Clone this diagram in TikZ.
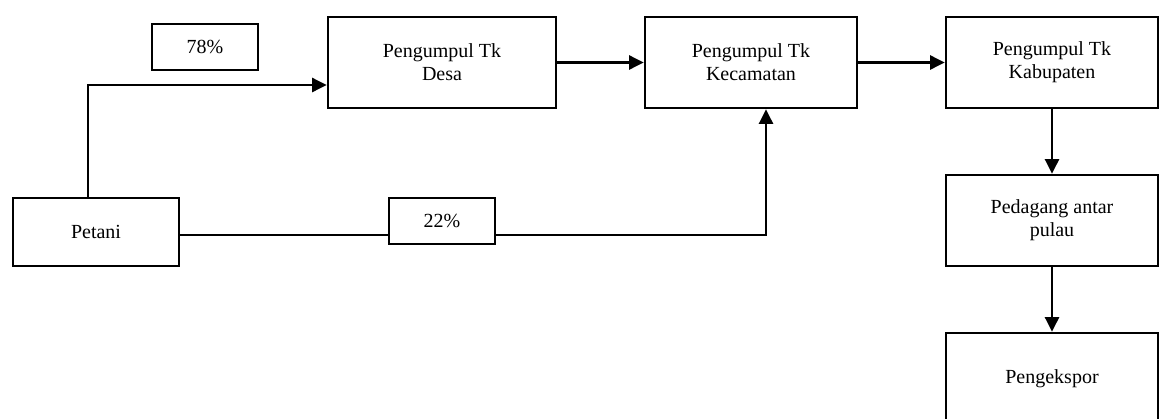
\documentclass[tikz,border=0pt]{standalone}
\usepackage{fontspec}
\setmainfont{Liberation Serif}
\usetikzlibrary{arrows.meta}

\begin{document}
\begin{tikzpicture}[x=0.75pt, y=-0.75pt,
    box/.style={draw, line width=1.9pt, align=center, inner sep=0pt,
      minimum width=159pt, minimum height=68.25pt,
      font=\fontsize{15}{17.25}\selectfont},
    pct/.style={box, minimum width=79.5pt, minimum height=34.5pt},
    arr/.style={line width=1.9pt, -{Triangle[length=11pt, width=10.5pt]}},
    lin/.style={line width=1.9pt}]
  \useasboundingbox (0,0) rectangle (1160,418);

  % nodes
  \node [box, minimum width=124.5pt, minimum height=51pt] (petani) at (96,232) {Petani};
  \node [pct] (p78) at (205,47) {78\%};
  \node [pct] (p22) at (442,221) {22\%};
  \node [box, minimum width=171pt] (desa) at (442,62.5) {Pengumpul Tk\\Desa};
  \node [box] (kec) at (751,62.5) {Pengumpul Tk\\Kecamatan};
  \node [box] (kab) at (1052,62.5) {Pengumpul Tk\\Kabupaten};
  \node [box] (antar) at (1052,220.5) {Pedagang antar\\pulau};
  \node [box] (ekspor) at (1052,378.5) {Pengekspor};

  % bend points
  \coordinate (up) at (88,85);
  \coordinate (low) at (766,235);

  % connectors
  \draw [arr] (petani.north -| up) |- (desa.west |- up);
  \draw [lin] (petani.east |- low) -- (p22.west |- low);
  \draw [arr] (p22.east |- low) -| (kec.south -| low);
  \draw [arr] (desa.east) -- (kec.west);
  \draw [arr] (kec.east) -- (kab.west);
  \draw [arr] (kab.south) -- (antar.north);
  \draw [arr] (antar.south) -- (ekspor.north);
\end{tikzpicture}
\end{document}
